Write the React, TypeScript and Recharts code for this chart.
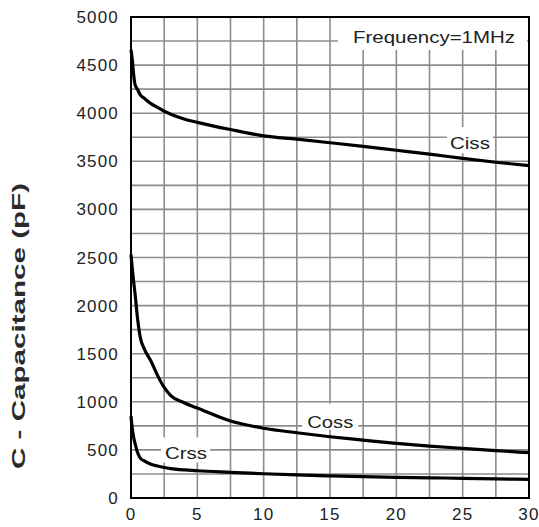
import React from "react";
import { LineChart, Line, XAxis, YAxis, CartesianGrid, ReferenceArea, ReferenceDot } from "recharts";

// Drain-source voltage (V)
const vds = [0, 0.1, 0.2, 0.3, 0.5, 0.7, 1, 1.5, 2, 2.5, 3, 4, 5, 7.5, 10, 12.5, 15, 17.5, 20, 22.5, 25, 27.5, 30];
// Capacitances (pF)
const ciss = [4660, 4550, 4400, 4300, 4245, 4190, 4155, 4100, 4060, 4020, 3990, 3940, 3905, 3830, 3765, 3730, 3693, 3655, 3615, 3575, 3530, 3490, 3455];
const coss = [2530, 2380, 2250, 2130, 1860, 1670, 1550, 1425, 1275, 1150, 1065, 990, 935, 800, 725, 678, 637, 602, 568, 540, 516, 493, 471];
const crss = [850, 720, 630, 570, 470, 415, 385, 352, 332, 317, 306, 292, 283, 267, 252, 240, 230, 222, 215, 210, 205, 199, 194];

const xTicks = [0, 2.5, 5, 7.5, 10, 12.5, 15, 17.5, 20, 22.5, 25, 27.5, 30];
const xLabels = [0, 5, 10, 15, 20, 25, 30];
const yTicks = [0, 250, 500, 750, 1000, 1250, 1500, 1750, 2000, 2250, 2500, 2750, 3000, 3250, 3500, 3750, 4000, 4250, 4500, 4750, 5000];
const yLabels = [0, 500, 1000, 1500, 2000, 2500, 3000, 3500, 4000, 4500, 5000];

const yTitle = "C - Capacitance (pF)";

// annotation texts and anchor (data coords)
const noteTexts = ["Frequency=1MHz", "Ciss", "Coss", "Crss"];
const noteX = [22.84, 25.55, 15.02, 4.15];
const noteY = [4792, 3690, 793, 463];
// box/text geometry (styles) per annotation
const noteBox = [
  { l: -96, r: 93, t: -19, b: 13, w: 162 },
  { l: -23, r: 23, t: -16, b: 10, w: 40 },
  { l: -28, r: 28, t: -18, b: 8, w: 46 },
  { l: -25, r: 24, t: -16, b: 9, w: 42 },
];

const data = vds.map((v, i) => ({ v, ciss: ciss[i], coss: coss[i], crss: crss[i] }));

const FONT = "'Liberation Sans', Arial, sans-serif";

const makeNote = (idx: number) => (props: any) => {
  const vb = props.viewBox || {};
  const cx = vb.x + (vb.width || 0) / 2;
  const cy = vb.y + (vb.height || 0) / 2;
  const b = noteBox[idx];
  return (
    <g>
      <rect x={cx + b.l} y={cy + b.t} width={b.r - b.l} height={b.b - b.t} fill="#fff" />
      <text
        x={cx}
        y={cy + 6}
        textAnchor="middle"
        fontFamily={FONT}
        fontSize={17}
        fill="#222"
        textLength={b.w}
        lengthAdjust="spacingAndGlyphs"
      >
        {noteTexts[idx]}
      </text>
    </g>
  );
};

const YTitle = (props: any) => {
  const vb = props.viewBox || { x: 0, y: 17, width: 131, height: 481 };
  const x = vb.x + 19;
  const y = vb.y + 309;
  return (
    <text
      x={x}
      y={y}
      transform={`rotate(-90 ${x} ${y})`}
      textAnchor="middle"
      dominantBaseline="central"
      fontFamily={FONT}
      fontWeight="bold"
      fontSize={18}
      fill="#2a2a2a"
      textLength={286}
      lengthAdjust="spacingAndGlyphs"
    >
      {yTitle}
    </text>
  );
};

export default function App() {
  return (
    <div style={{ position: "absolute", left: 0, top: 0, background: "#fff" }}>
      <LineChart width={539} height={527} data={data} margin={{ top: 17, right: 10, left: 0, bottom: 0 }}>
        <CartesianGrid stroke="#8c8c8c" strokeWidth={1.6} />
        <XAxis
          dataKey="v"
          type="number"
          domain={[0, 30]}
          ticks={xTicks}
          interval={0}
          height={29}
          tickLine={false}
          tickSize={0}
          tickMargin={10}
          axisLine={{ stroke: "#000", strokeWidth: 2 }}
          tickFormatter={(t: number) => (xLabels.includes(t) ? String(t) : "")}
          tick={{ fontSize: 17, fill: "#222", fontFamily: FONT, letterSpacing: 1.2 }}
        />
        <YAxis
          type="number"
          domain={[0, 5000]}
          ticks={yTicks}
          interval={0}
          width={131}
          tickLine={false}
          tickSize={0}
          tickMargin={12}
          axisLine={{ stroke: "#000", strokeWidth: 2 }}
          tickFormatter={(t: number) => (yLabels.includes(t) ? String(t) : "")}
          tick={{ fontSize: 17, fill: "#222", fontFamily: FONT, letterSpacing: 1.2 }}
          label={YTitle}
        />
        <ReferenceArea x1={0} x2={30} y1={0} y2={5000} fill="none" stroke="#000" strokeWidth={2} fillOpacity={0} />
        {noteTexts.map((t, i) => (
          <ReferenceDot key={t} x={noteX[i]} y={noteY[i]} r={0} fill="none" stroke="none" label={makeNote(i)} />
        ))}
        <Line type="monotone" dataKey="ciss" stroke="#000" strokeWidth={3.2} dot={false} isAnimationActive={false} />
        <Line type="monotone" dataKey="coss" stroke="#000" strokeWidth={3.2} dot={false} isAnimationActive={false} />
        <Line type="monotone" dataKey="crss" stroke="#000" strokeWidth={3.2} dot={false} isAnimationActive={false} />
      </LineChart>
    </div>
  );
}
